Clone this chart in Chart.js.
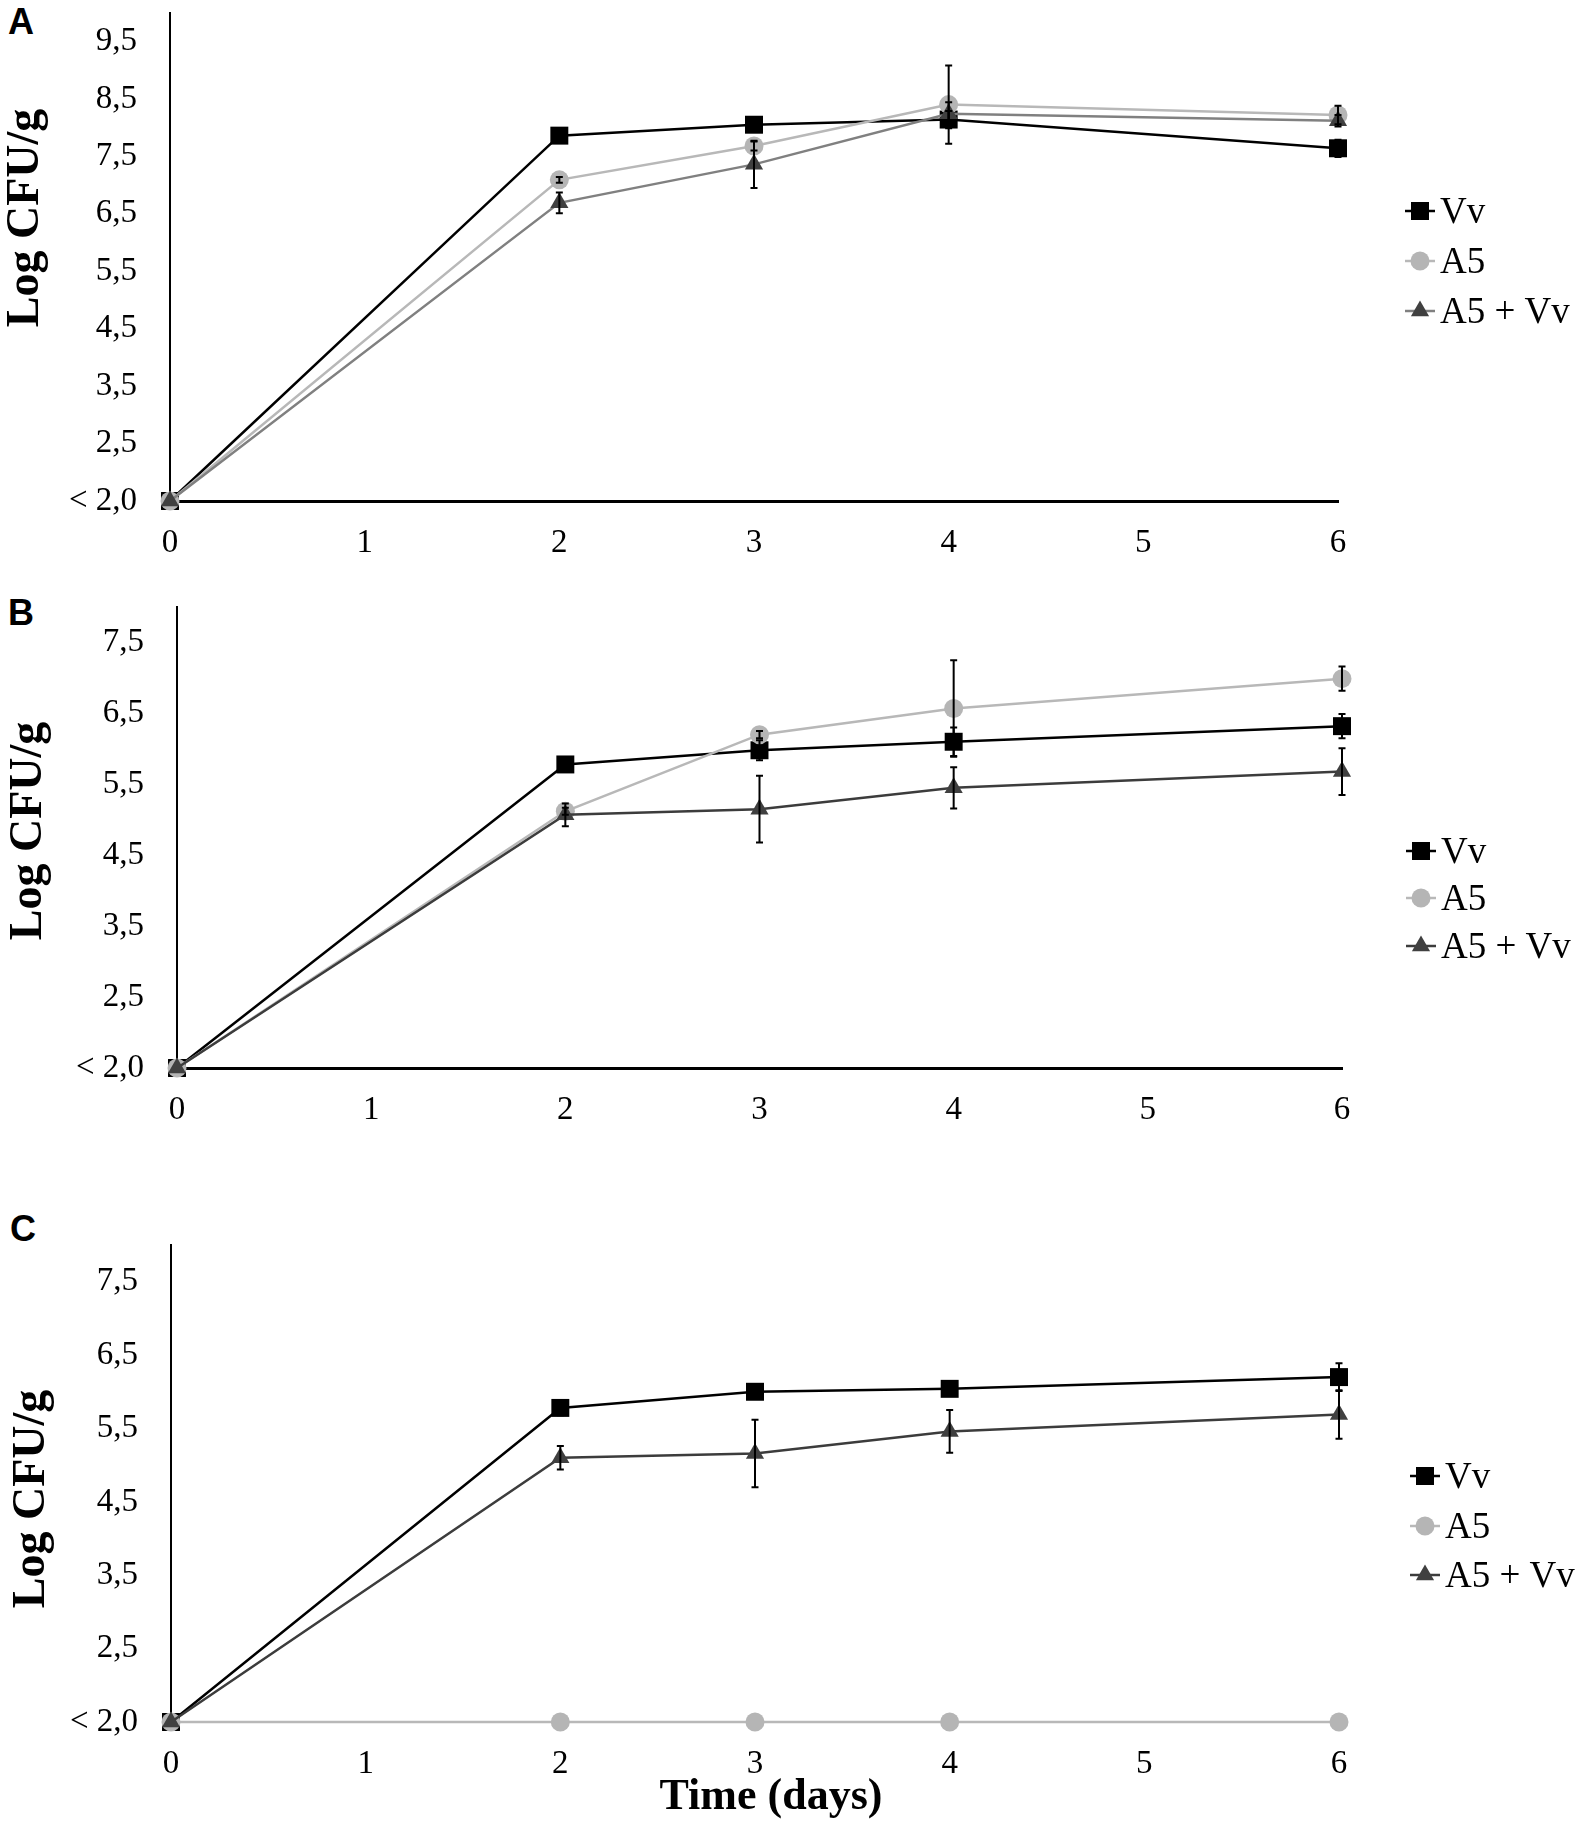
<!DOCTYPE html>
<html>
<head>
<meta charset="utf-8">
<script src="https://cdn.jsdelivr.net/npm/chart.js@4.4.1/dist/chart.umd.min.js"></script>
<style>
  html, body { margin: 0; padding: 0; background: #fff; width: 1581px; height: 1832px; overflow: hidden; }
  canvas { position: absolute; left: 0; }
  .tag { position: absolute; font: bold 36px "Liberation Sans", Arial, sans-serif; line-height: 1; color: #000; }
</style>
</head>
<body>
<div class="tag" style="left:8px;top:4px">A</div>
<div class="tag" style="left:8px;top:595px">B</div>
<div class="tag" style="left:10px;top:1211px">C</div>
<canvas id="chartA" width="1581" height="590" style="top:0px"></canvas>
<canvas id="chartB" width="1581" height="540" style="top:590px"></canvas>
<canvas id="chartC" width="1581" height="692" style="top:1140px"></canvas>
<script>
// Log CFU/g over time, three panels with the same three series

const days = [0, 2, 3, 4, 6];
const xTicks = [0, 1, 2, 3, 4, 5, 6];
const seriesNames = ['Vv', 'A5', 'A5 + Vv'];

// "< 2,0" sits at 1.5 on the axis
const yTicksA = [1.5, 2.5, 3.5, 4.5, 5.5, 6.5, 7.5, 8.5, 9.5];
const yLabelsA = ['< 2,0', '2,5', '3,5', '4,5', '5,5', '6,5', '7,5', '8,5', '9,5'];
const yTicksBC = [1.5, 2.5, 3.5, 4.5, 5.5, 6.5, 7.5];
const yLabelsBC = ['< 2,0', '2,5', '3,5', '4,5', '5,5', '6,5', '7,5'];

// panel A
const vvA = [1.5, 7.86, 8.05, 8.14, 7.64];
const a5A = [1.5, 7.09, 7.68, 8.4, 8.22];
const mixA = [1.5, 6.69, 7.36, 8.24, 8.12];
const vvErrA = [0, 0.08, 0.1, 0.15, 0.15];
const a5ErrA = [0, 0.05, 0.08, 0.68, 0.16];
const mixErrA = [0, 0.18, 0.41, 0.2, 0.1];

// panel B
const vvB = [1.5, 5.78, 5.98, 6.1, 6.32];
const a5B = [1.5, 5.12, 6.2, 6.57, 6.99];
const mixB = [1.5, 5.07, 5.15, 5.45, 5.68];
const vvErrB = [0, 0.08, 0.14, 0.2, 0.17];
const a5ErrB = [0, 0.05, 0.05, 0.68, 0.17];
const mixErrB = [0, 0.16, 0.47, 0.29, 0.33];

// panel C
const vvC = [1.5, 5.78, 6.0, 6.04, 6.2];
const a5C = [1.5, 1.5, 1.5, 1.5, 1.5];
const mixC = [1.5, 5.1, 5.16, 5.46, 5.69];
const vvErrC = [0, 0.1, 0.08, 0, 0.19];
const a5ErrC = [0, 0, 0, 0, 0];
const mixErrC = [0, 0.16, 0.46, 0.29, 0.33];

const SERIF = '"Liberation Serif", "Times New Roman", serif';
Chart.defaults.font.family = SERIF;
Chart.defaults.color = '#000';

function pts(vals) {
  return days.map((d, i) => ({ x: d, y: vals[i] }));
}

function drawMarker(ctx, style, x, y, color) {
  ctx.fillStyle = color;
  ctx.beginPath();
  if (style === 'rect') {
    ctx.rect(x - 9, y - 9, 18, 18);
  } else if (style === 'circle') {
    ctx.arc(x, y, 9.5, 0, Math.PI * 2);
  } else {
    ctx.moveTo(x, y - 10.5);
    ctx.lineTo(x + 9.1, y + 5.25);
    ctx.lineTo(x - 9.1, y + 5.25);
    ctx.closePath();
  }
  ctx.fill();
}

const errorBars = {
  id: 'errorBars',
  afterDatasetsDraw(chart) {
    const ctx = chart.ctx, xs = chart.scales.x, ys = chart.scales.y;
    ctx.save();
    ctx.strokeStyle = '#000';
    ctx.lineWidth = 2;
    chart.data.datasets.forEach(ds => {
      (ds.errors || []).forEach((e, i) => {
        if (!e) return;
        const p = ds.data[i];
        const px = xs.getPixelForValue(p.x);
        const top = ys.getPixelForValue(p.y + e);
        const bot = ys.getPixelForValue(p.y - e);
        ctx.beginPath();
        ctx.moveTo(px, top); ctx.lineTo(px, bot);
        ctx.moveTo(px - 3.5, top); ctx.lineTo(px + 3.5, top);
        ctx.moveTo(px - 3.5, bot); ctx.lineTo(px + 3.5, bot);
        ctx.stroke();
      });
    });
    ctx.restore();
  }
};

const extras = {
  id: 'extras',
  afterDraw(chart, args, o) {
    const ctx = chart.ctx;
    ctx.save();
    // y title
    ctx.translate(o.yTitle[0], o.yTitle[1]);
    ctx.rotate(-Math.PI / 2);
    ctx.font = 'bold 46px ' + SERIF;
    ctx.fillStyle = '#000';
    ctx.textAlign = 'center';
    ctx.textBaseline = 'middle';
    ctx.fillText('Log CFU/g', 0, 0);
    ctx.restore();

    // legend on the right
    ctx.save();
    chart.data.datasets.forEach((ds, i) => {
      const y = o.legendRows[i], x = o.legendX;
      ctx.strokeStyle = ds.borderColor;
      ctx.lineWidth = 2.5;
      ctx.beginPath();
      ctx.moveTo(x - 15, y); ctx.lineTo(x + 15, y);
      ctx.stroke();
      drawMarker(ctx, ds.pointStyle, x, y, ds.pointBackgroundColor);
      ctx.fillStyle = '#000';
      ctx.font = '37px ' + SERIF;
      ctx.textAlign = 'left';
      ctx.textBaseline = 'middle';
      ctx.fillText(ds.label, x + 20, y + 2);
    });
    if (o.xTitle) {
      ctx.font = 'bold 44px ' + SERIF;
      ctx.textAlign = 'center';
      ctx.textBaseline = 'middle';
      ctx.fillText('Time (days)', o.xTitle[0], o.xTitle[1]);
    }
    ctx.restore();
  }
};

function makePanel(id, p) {
  const canvas = document.getElementById(id);
  const H = canvas.height, W = canvas.width;
  const styles = ['rect', 'circle', 'triangle'];
  const lineCols = ['#000000', '#b8b8b8', p.mixLine];
  const markCols = ['#000000', '#b5b5b5', '#404040'];
  const series = [p.vv, p.a5, p.mix];
  const errs = [p.vvErr, p.a5Err, p.mixErr];
  const radii = [12.7, 9.5, 10.5];
  const orders = [2, 1, 0];

  new Chart(canvas, {
    type: 'line',
    data: {
      datasets: series.map((vals, i) => ({
        label: seriesNames[i],
        data: pts(vals),
        errors: errs[i],
        borderColor: lineCols[i],
        backgroundColor: markCols[i],
        pointBackgroundColor: markCols[i],
        pointBorderColor: markCols[i],
        pointBorderWidth: 0,
        pointStyle: styles[i],
        pointRadius: radii[i],
        borderWidth: 2.5,
        tension: 0,
        clip: false,
        order: orders[i]
      }))
    },
    options: {
      responsive: false,
      animation: false,
      devicePixelRatio: 1,
      layout: {
        padding: { left: 0, top: p.area.top, right: W - p.area.right, bottom: 0 }
      },
      plugins: {
        legend: { display: false },
        tooltip: { enabled: false },
        extras: { yTitle: p.yTitle, legendX: p.legendX, legendRows: p.legendRows, xTitle: p.xTitle }
      },
      scales: {
        x: {
          type: 'linear',
          min: 0,
          max: 6,
          grid: { display: false },
          border: { display: p.xBorder, color: '#000', width: 3 },
          afterBuildTicks: s => { s.ticks = xTicks.map(v => ({ value: v })); },
          afterFit: s => { s.height = H - p.area.bottom; s.paddingLeft = 0; s.paddingRight = 0; },
          ticks: { font: { size: 33 }, color: '#000', padding: 15, maxRotation: 0 }
        },
        y: {
          min: 1.5,
          max: p.yMax,
          grid: { display: false },
          border: { display: true, color: '#000', width: 2 },
          afterBuildTicks: s => { s.ticks = p.yTicks.map(v => ({ value: v })); },
          afterFit: s => { s.width = p.area.left; s.paddingTop = 0; s.paddingBottom = 0; },
          ticks: {
            font: { size: 33 },
            color: '#000',
            padding: 25,
            callback: (v, i) => p.yLabels[i]
          }
        }
      }
    },
    plugins: [errorBars, extras]
  });
}

makePanel('chartA', {
  vv: vvA, a5: a5A, mix: mixA, vvErr: vvErrA, a5Err: a5ErrA, mixErr: mixErrA,
  yTicks: yTicksA, yLabels: yLabelsA, yMax: 10, mixLine: '#808080',
  area: { left: 170, right: 1338, top: 5, bottom: 501 },
  yTitle: [26, 218], legendX: 1420, legendRows: [211, 261, 311], xBorder: true
});

makePanel('chartB', {
  vv: vvB, a5: a5B, mix: mixB, vvErr: vvErrB, a5Err: a5ErrB, mixErr: mixErrB,
  yTicks: yTicksBC, yLabels: yLabelsBC, yMax: 8, mixLine: '#3c3c3c',
  area: { left: 177, right: 1342, top: 17, bottom: 478 },
  yTitle: [29, 241], legendX: 1421, legendRows: [261, 308, 356], xBorder: true
});

makePanel('chartC', {
  vv: vvC, a5: a5C, mix: mixC, vvErr: vvErrC, a5Err: a5ErrC, mixErr: mixErrC,
  yTicks: yTicksBC, yLabels: yLabelsBC, yMax: 8, mixLine: '#3c3c3c',
  area: { left: 171, right: 1339, top: 105, bottom: 582 },
  yTitle: [32, 359], legendX: 1425, legendRows: [336, 386, 435], xBorder: false,
  xTitle: [771, 658]
});
</script>
</body>
</html>
